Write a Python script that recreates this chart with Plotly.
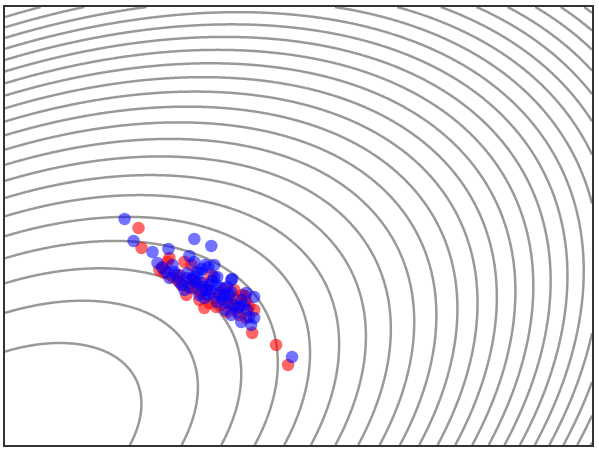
import numpy as np
import plotly.graph_objects as go

# quadratic bowl behind the points (minimum at the lower-left corner)
quad_a, quad_b, quad_c = 1.0, -1.08, 1.8
level_step = 1.57
x_range = [0, 5.89]
y_range = [0, 4.38]

red_x = [1.34, 1.37, 1.65, 1.55, 1.60, 1.87, 1.73, 2.03, 1.80, 1.82, 2.00, 2.23,
         2.38, 2.42, 2.50, 2.42, 2.48, 2.17, 2.07, 2.33, 1.90, 2.72, 2.84, 2.41,
         2.05, 1.77, 1.95, 2.10, 2.25, 1.63, 2.30, 1.68, 1.85, 1.97, 2.15, 2.28,
         1.58, 1.92, 2.12, 2.35, 1.75, 2.00, 2.20, 2.32, 1.86, 2.45]
red_y = [2.17, 1.97, 1.87, 1.75, 1.72, 1.80, 1.65, 1.55, 1.83, 1.50, 1.37, 1.33,
         1.50, 1.43, 1.35, 1.27, 1.12, 1.40, 1.70, 1.37, 1.63, 1.00, 0.80, 1.49,
         1.42, 1.60, 1.45, 1.47, 1.45, 1.83, 1.55, 1.68, 1.58, 1.52, 1.52, 1.40,
         1.78, 1.56, 1.38, 1.30, 1.70, 1.62, 1.56, 1.46, 1.66, 1.38]

blue_x = [1.20, 1.29, 1.48, 1.64, 1.90, 2.07, 1.85, 2.04, 1.53, 1.70, 1.82, 1.95,
          1.92, 2.10, 1.83, 1.93, 2.01, 2.13, 2.27, 1.97, 1.87, 2.07, 2.17, 2.00,
          2.13, 2.30, 2.37, 2.50, 2.27, 2.37, 2.47, 2.50, 2.43, 2.23, 1.90, 2.10,
          2.20, 2.27, 2.88, 2.42, 2.28, 1.58, 1.75, 1.65, 2.05, 2.33, 2.21, 2.15,
          1.80, 1.95, 1.62, 1.72, 1.88, 1.98, 2.08, 2.18, 2.35, 2.45, 2.02, 2.24,
          1.78, 1.90, 2.04, 2.12, 2.25, 2.40, 1.68, 1.98]
blue_y = [2.26, 2.04, 1.93, 1.96, 2.06, 1.99, 1.89, 1.78, 1.82, 1.73, 1.67, 1.72,
          1.62, 1.68, 1.72, 1.73, 1.80, 1.68, 1.65, 1.62, 1.57, 1.53, 1.57, 1.47,
          1.43, 1.40, 1.45, 1.48, 1.30, 1.23, 1.20, 1.27, 1.35, 1.58, 1.83, 1.80,
          1.50, 1.53, 0.88, 1.52, 1.66, 1.77, 1.63, 1.67, 1.60, 1.33, 1.35, 1.50,
          1.55, 1.50, 1.73, 1.70, 1.65, 1.58, 1.64, 1.46, 1.38, 1.28, 1.55, 1.42,
          1.60, 1.68, 1.50, 1.60, 1.50, 1.40, 1.80, 1.76]

gx = np.linspace(x_range[0], x_range[1], 400)
gy = np.linspace(y_range[0], y_range[1], 300)
X, Y = np.meshgrid(gx, gy)
Z = quad_a * X**2 + quad_b * X * Y + quad_c * Y**2

fig = go.Figure()

fig.add_trace(go.Contour(
    x=gx, y=gy, z=Z,
    autocontour=False,
    contours=dict(start=level_step, end=level_step * 30, size=level_step, coloring='none'),
    line=dict(color='rgba(128,128,128,0.8)', width=2.5, smoothing=1.3),
    showscale=False,
    hoverinfo='skip'
))

fig.add_trace(go.Scatter(
    x=red_x, y=red_y, mode='markers',
    marker=dict(color='red', size=12.5, opacity=0.6, line=dict(width=0)),
    showlegend=False
))
fig.add_trace(go.Scatter(
    x=blue_x, y=blue_y, mode='markers',
    marker=dict(color='blue', size=12.5, opacity=0.55, line=dict(width=0)),
    showlegend=False
))

axis_style = dict(showticklabels=False, ticks='', showgrid=False, zeroline=False,
                  showline=True, mirror=True, linecolor='#333333', linewidth=2)
fig.update_xaxes(range=x_range, **axis_style)
fig.update_yaxes(range=y_range, **axis_style)

fig.update_layout(
    width=599, height=450,
    margin=dict(l=5, r=5, t=7, b=5),
    plot_bgcolor='white', paper_bgcolor='white',
    showlegend=False
)

# drop the browser's default body margin so the frame sits where it should
fig.write_html("out.html", config={'displayModeBar': False},
               post_script="document.body.style.margin='0';")
